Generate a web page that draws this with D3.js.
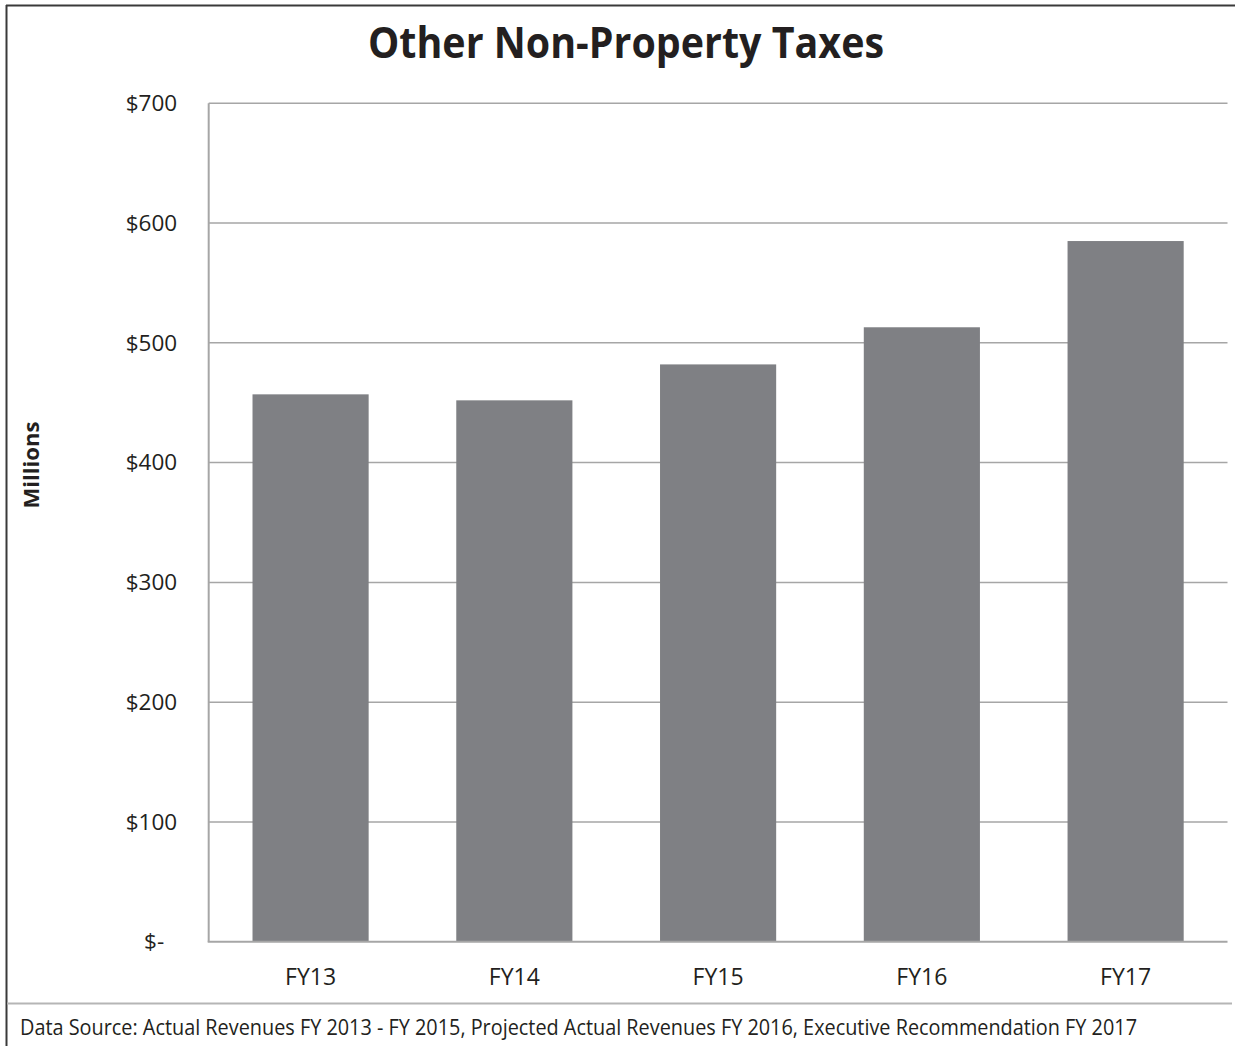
<!DOCTYPE html>
<html>
<head>
<meta charset="utf-8">
<script src="https://cdn.jsdelivr.net/npm/d3@7"></script>
<style>
  html, body { margin: 0; padding: 0; background: #fff; }
  svg { display: block; }
  text { font-family: "Open Sans", Lato, sans-serif; fill: #231f20; }
</style>
</head>
<body>
<svg id="chart" width="1235" height="1046"></svg>
<script>
const categories = ["FY13", "FY14", "FY15", "FY16", "FY17"];
const values = [457, 452, 482, 513, 585];
const tickValues = [0, 100, 200, 300, 400, 500, 600, 700];
const tickLabels = ["$-", "$100", "$200", "$300", "$400", "$500", "$600", "$700"];
const titleText = "Other Non-Property Taxes";
const yAxisTitle = "Millions";
const sourceText = "Data Source: Actual Revenues FY 2013 - FY 2015, Projected Actual Revenues FY 2016, Executive Recommendation FY 2017";

const svg = d3.select("#chart");
const W = 1235, H = 1046;
const plot = { left: 208.7, right: 1227.5, top: 103.3, bottom: 941.7 };

// outer frame
svg.append("line").attr("x1", 6).attr("x2", W).attr("y1", 5.5).attr("y2", 5.5)
  .attr("stroke", "#3a3a3a").attr("stroke-width", 2);
svg.append("line").attr("x1", 6.5).attr("x2", 6.5).attr("y1", 5).attr("y2", H)
  .attr("stroke", "#3a3a3a").attr("stroke-width", 2);
// footer separator
svg.append("line").attr("x1", 7).attr("x2", 1232).attr("y1", 1003.5).attr("y2", 1003.5)
  .attr("stroke", "#b5b5b5").attr("stroke-width", 2);

const x = d3.scaleBand().domain(categories).range([plot.left, plot.right])
  .paddingInner(0.43).paddingOuter(0.215);
const y = d3.scaleLinear().domain([0, 700]).range([plot.bottom, plot.top]);

// gridlines
svg.append("g").selectAll("line").data(tickValues.filter(d => d > 0)).join("line")
  .attr("x1", plot.left).attr("x2", plot.right)
  .attr("y1", d => y(d)).attr("y2", d => y(d))
  .attr("stroke", "#a6a6a6").attr("stroke-width", 1.5);

// bars
svg.append("g").selectAll("rect").data(values).join("rect")
  .attr("x", (d, i) => x(categories[i]))
  .attr("width", x.bandwidth())
  .attr("y", d => y(d))
  .attr("height", d => y(0) - y(d))
  .attr("fill", "#7f8084");

// axes lines
svg.append("line").attr("x1", plot.left).attr("x2", plot.left).attr("y1", plot.top).attr("y2", plot.bottom)
  .attr("stroke", "#a6a6a6").attr("stroke-width", 2);
svg.append("line").attr("x1", plot.left - 1).attr("x2", plot.right).attr("y1", plot.bottom).attr("y2", plot.bottom)
  .attr("stroke", "#a6a6a6").attr("stroke-width", 2);

// y tick labels
const yAxis = d3.axisLeft(y).tickValues(tickValues).tickSize(0)
  .tickFormat((d, i) => tickLabels[i]);
const gy = svg.append("g").attr("transform", `translate(${plot.left - 28.5},0)`).call(yAxis);
gy.select(".domain").remove();
gy.selectAll("text").attr("font-size", 22.5).attr("fill", "#231f20")
  .attr("font-family", "'Open Sans', sans-serif")
  .attr("dx", d => d === 0 ? -13 : 0);

// x tick labels
const xAxis = d3.axisBottom(x).tickSize(0);
const gx = svg.append("g").attr("transform", `translate(0,${plot.bottom + 24})`).call(xAxis);
gx.select(".domain").remove();
gx.selectAll("text").attr("font-size", 23).attr("fill", "#231f20")
  .attr("font-family", "'Open Sans', sans-serif");

// title
svg.append("text").attr("x", 626).attr("y", 58).attr("text-anchor", "middle")
  .attr("font-size", 43).attr("font-weight", "bold")
  .attr("textLength", 516).attr("lengthAdjust", "spacingAndGlyphs")
  .text(titleText);

// y axis title
svg.append("text").attr("transform", "translate(39,465) rotate(-90)")
  .attr("text-anchor", "middle").attr("font-size", 22).attr("font-weight", "bold")
  .attr("textLength", 87).attr("lengthAdjust", "spacingAndGlyphs")
  .text(yAxisTitle);

// footer
svg.append("text").attr("x", 20).attr("y", 1035).attr("font-size", 21)
  .attr("textLength", 1117).attr("lengthAdjust", "spacingAndGlyphs")
  .text(sourceText);
</script>
</body>
</html>
